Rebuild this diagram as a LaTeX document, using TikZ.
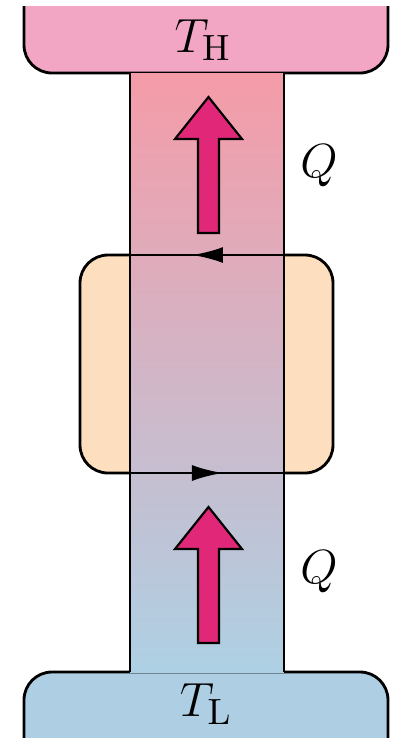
\documentclass[tikz,border=0pt]{standalone}
\usepackage{amsmath}
\usepackage{amssymb}
\usetikzlibrary{calc,positioning,arrows.meta,shapes}

\definecolor{hotres}{RGB}{242,166,196}
\definecolor{coldres}{RGB}{174,207,227}
\definecolor{enginefill}{RGB}{253,223,192}
\definecolor{heattop}{RGB}{245,155,168}
\definecolor{heatbot}{RGB}{174,208,228}
\definecolor{heatpink}{RGB}{225,40,120}

\begin{document}
\begin{tikzpicture}[x=0.3pt, y=-0.3pt, line width=0.85pt,
    every node/.style={font=\fontsize{15}{18}\selectfont, inner sep=0pt, outer sep=0pt},
    reservoir/.style={draw=black, rounded corners=8.4pt},
    heatarrow/.style={fill=heatpink, draw=black, line width=0.65pt, line join=miter},
    cycleline/.style={-{Latex[length=9.3pt,width=4.8pt]}}]
    \useasboundingbox (0,0) rectangle (396,738);
    % reservoirs
    \filldraw[reservoir, fill=hotres] (24,6) -- (24,73) -- (388,73) -- (388,6);
    \filldraw[reservoir, fill=coldres] (24,738) -- (24,672) -- (388,672) -- (388,738);
    % engine
    \filldraw[reservoir, fill=enginefill] (80,255) rectangle (333,473);
    % heat column
    \shade[top color=heattop, bottom color=heatbot] (130,73) rectangle (284,672);
    \draw (130,73) -- (130,672) (284,73) -- (284,672);
    % cycle
    \coordinate (cycTR) at (284,255);
    \coordinate (cycTM) at (192,255);
    \coordinate (cycTL) at (130,255);
    \coordinate (cycBL) at (130,473);
    \coordinate (cycBM) at (223,473);
    \coordinate (cycBR) at (284,473);
    \draw (cycTR) -- (cycTL) (cycBL) -- (cycBR);
    \draw[cycleline] (cycTR) -- (cycTM);
    \draw[cycleline] (cycBL) -- (cycBM);
    % heat arrows
    \foreach \y in {97,507}
        \draw[heatarrow] (198,\y+136) -- (198,\y+42) -- (175,\y+42) -- (208.5,\y)
            -- (242,\y+42) -- (219,\y+42) -- (219,\y+136) -- cycle;
    % labels
    \node (TH) at (203,40) {$T_{\mathrm{H}}$};
    \node (TL) at (206,704) {$T_{\mathrm{L}}$};
    \node (Qup) at (319,166) {$Q$};
    \node (Qdn) at (319,572) {$Q$};
\end{tikzpicture}
\end{document}
